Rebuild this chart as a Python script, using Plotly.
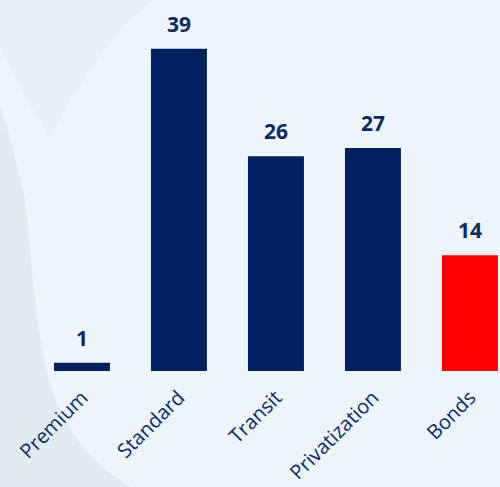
import plotly.graph_objects as go

categories = ["Premium", "Standard", "Transit", "Privatization", "Bonds"]
values = [1, 39, 26, 27, 14]
bar_colors = ["#002060", "#002060", "#002060", "#002060", "#FF0000"]

W, H = 500, 487
M_L, M_R, M_T, M_B = 0, 0, 0, 116
PLOT_H = H - M_T - M_B

def px(x, y):
    # pixel -> paper coordinates (decorative background only)
    return x / (W - M_L - M_R), (PLOT_H - (y - M_T)) / PLOT_H

def path_from(points):
    parts = []
    for i, (x, y) in enumerate(points):
        xx, yy = px(x, y)
        parts.append(("M" if i == 0 else "L") + f" {xx:.4f},{yy:.4f}")
    return " ".join(parts) + " Z"

dark_region = [(0, 105), (13, 150), (25, 200), (30, 250), (37, 320), (45, 365),
               (55, 400), (70, 428), (85, 450), (105, 470), (130, 487), (0, 487)]
v_region = [(0, 0), (0, 47), (15, 75), (30, 105), (50, 138), (70, 100),
            (100, 55), (125, 25), (153, 0)]

fig = go.Figure()
fig.add_trace(go.Bar(
    x=categories, y=values,
    marker=dict(color=bar_colors, line=dict(width=0)),
    hoverinfo="skip",
))

for c, v in zip(categories, values):
    fig.add_annotation(
        x=c, y=v, text=f"<b>{v}</b>", showarrow=False,
        yanchor="bottom", yshift=9,
        font=dict(family="Open Sans", size=21, color="#0B2A63"),
    )

fig.update_layout(
    width=W, height=H,
    margin=dict(l=M_L, r=M_R, t=M_T, b=M_B, autoexpand=False),
    paper_bgcolor="#EDF4FB",
    plot_bgcolor="rgba(0,0,0,0)",
    bargap=0.423,
    showlegend=False,
    shapes=[
        dict(type="path", xref="paper", yref="paper", path=path_from(v_region),
             fillcolor="#E9EFF8", line=dict(width=0), layer="below"),
        dict(type="path", xref="paper", yref="paper", path=path_from(dark_region),
             fillcolor="#E0EAF1", line=dict(width=0), layer="below"),
    ],
    xaxis=dict(
        range=[-0.845, 4.31], showgrid=False, zeroline=False, showline=False,
        tickangle=-45, ticks="", ticklabelstandoff=10, automargin=False,
        tickfont=dict(family="Open Sans", size=20, color="#0B2A63"),
    ),
    yaxis=dict(range=[0, 44.9], visible=False, showgrid=False, zeroline=False,
               automargin=False),
)

fig.write_html("out.html")
